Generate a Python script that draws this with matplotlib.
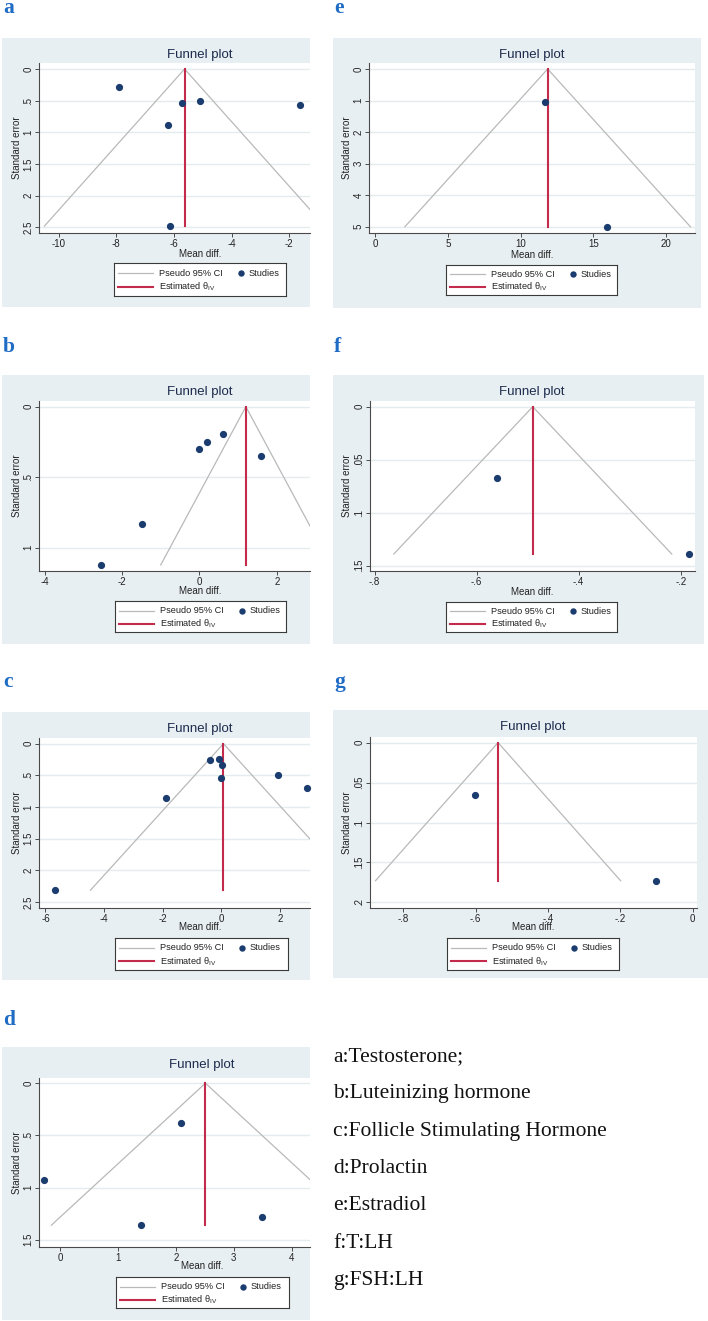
import matplotlib
matplotlib.use("Agg")
import matplotlib.pyplot as plt
from matplotlib.lines import Line2D
from matplotlib.ticker import FuncFormatter

# ---------------- data ----------------
a_md = [-7.92, -5.71, -5.09, -6.21, -1.61, -6.15]
a_se = [0.284, 0.537, 0.50, 0.884, 0.574, 2.48]
a_theta = -5.63

b_md = [0.0, 0.20, 0.60, 1.58, -1.49, -2.54]
b_se = [0.299, 0.254, 0.194, 0.348, 0.836, 1.123]
b_theta = 1.20

c_md = [-0.39, -0.07, 0.01, -0.02, 1.93, 2.91, -1.88, -5.67]
c_se = [0.254, 0.243, 0.344, 0.534, 0.497, 0.703, 0.856, 2.315]
c_theta = 0.07

d_md = [-0.28, 2.09, 1.40, 3.49]
d_se = [0.925, 0.38, 1.36, 1.28]
d_theta = 2.51

e_md = [11.65, 15.96]
e_se = [1.04, 5.0]
e_theta = 11.86

f_md = [-0.561, -0.184]
f_se = [0.0669, 0.139]
f_theta = -0.490

g_md = [-0.602, -0.102]
g_se = [0.0651, 0.1728]
g_theta = -0.538

a_xticks = [-10, -8, -6, -4, -2]
a_yticks = [0, 0.5, 1, 1.5, 2, 2.5]
b_xticks = [-4, -2, 0, 2]
b_yticks = [0, 0.5, 1]
c_xticks = [-6, -4, -2, 0, 2]
c_yticks = [0, 0.5, 1, 1.5, 2, 2.5]
d_xticks = [0, 1, 2, 3, 4]
d_yticks = [0, 0.5, 1, 1.5]
e_xticks = [0, 5, 10, 15, 20]
e_yticks = [0, 1, 2, 3, 4, 5]
f_xticks = [-0.8, -0.6, -0.4, -0.2]
f_yticks = [0, 0.05, 0.1, 0.15]
g_xticks = [-0.8, -0.6, -0.4, -0.2, 0]
g_yticks = [0, 0.05, 0.1, 0.15, 0.2]

captions = ["a:Testosterone;", "b:Luteinizing hormone", "c:Follicle Stimulating Hormone",
            "d:Prolactin", "e:Estradiol", "f:T:LH", "g:FSH:LH"]

# ---------------- styling ----------------
W, H = 708, 1321
BG = "#e8eff2"
GRID = "#e4ecef"
NAVY = "#1a3c6e"
RED = "#c42a4c"
CI = "#b9b9b9"
TITLE = "#1c2b4d"
LETTER = "#1f6cc5"
SANS = ["Liberation Sans", "DejaVu Sans"]
SERIF = ["Liberation Serif", "DejaVu Serif"]

plt.rcParams["font.family"] = SANS
plt.rcParams["mathtext.fontset"] = "custom"
plt.rcParams["mathtext.rm"] = "Liberation Sans"
plt.rcParams["mathtext.it"] = "Liberation Sans"

fig = plt.figure(figsize=(W / 100, H / 100), dpi=100)
fig.patch.set_facecolor("white")


def fx(x):
    return x / W


def fy(y):
    return 1 - y / H


def rect(box):
    x0, y0, x1, y1 = box
    return [x0 / W, 1 - y1 / H, (x1 - x0) / W, (y1 - y0) / H]


def stata_fmt(v, pos=None):
    if abs(v) < 1e-12:
        return "0"
    s = f"{v:g}"
    if s.startswith("0."):
        s = s[1:]
    elif s.startswith("-0."):
        s = "-" + s[2:]
    return s


panels = [
    dict(md=a_md, se=a_se, theta=a_theta, xt=a_xticks, yt=a_yticks,
         xlim=(-10.68, -1.28), ylim=(2.59, -0.095),
         bg=(2, 38, 310, 307), plot=(39, 63, 310, 233), cx=200, ty=55, xly=254,
         ylx=17, leg=(114, 263, 286, 296), letter="a", lpos=(3, 13)),
    dict(md=b_md, se=b_se, theta=b_theta, xt=b_xticks, yt=b_yticks,
         xlim=(-4.15, 2.86), ylim=(1.166, -0.04),
         bg=(2, 375, 310, 644), plot=(39, 401, 310, 571), cx=200, ty=392, xly=591,
         ylx=17, leg=(115, 601, 286, 632), letter="b", lpos=(3, 352)),
    dict(md=c_md, se=c_se, theta=c_theta, xt=c_xticks, yt=c_yticks,
         xlim=(-6.22, 3.02), ylim=(2.595, -0.09),
         bg=(2, 712, 310, 980), plot=(39, 738, 310, 908), cx=200, ty=729, xly=927,
         ylx=17, leg=(115, 938, 288, 970), letter="c", lpos=(3, 687)),
    dict(md=d_md, se=d_se, theta=d_theta, xt=d_xticks, yt=d_yticks,
         xlim=(-0.37, 4.32), ylim=(1.569, -0.05),
         bg=(2, 1047, 310, 1320), plot=(39, 1078, 310, 1247), cx=202, ty=1065, xly=1266,
         ylx=17, leg=(116, 1277, 289, 1308), letter="d", lpos=(3, 1025)),
    dict(md=e_md, se=e_se, theta=e_theta, xt=e_xticks, yt=e_yticks,
         xlim=(-0.41, 21.98), ylim=(5.2, -0.19),
         bg=(333, 38, 701, 308), plot=(369, 63, 695, 233), cx=532, ty=55, xly=255,
         ylx=347, leg=(446, 265, 617, 295), letter="e", lpos=(334, 13)),
    dict(md=f_md, se=f_se, theta=f_theta, xt=f_xticks, yt=f_yticks,
         xlim=(-0.809, -0.172), ylim=(0.155, -0.0054),
         bg=(333, 375, 704, 644), plot=(370, 401, 695, 571), cx=532, ty=392, xly=592,
         ylx=347, leg=(446, 602, 617, 632), letter="f", lpos=(334, 352)),
    dict(md=g_md, se=g_se, theta=g_theta, xt=g_xticks, yt=g_yticks,
         xlim=(-0.892, 0.012), ylim=(0.207, -0.007),
         bg=(333, 710, 708, 978), plot=(370, 737, 697, 908), cx=533, ty=727, xly=927,
         ylx=347, leg=(447, 938, 619, 970), letter="g", lpos=(334, 687)),
]

for p in panels:
    # graph region background (an axes placed underneath)
    bgax = fig.add_axes(rect(p["bg"]), zorder=-5)
    bgax.set_facecolor(BG)
    bgax.set_xticks([])
    bgax.set_yticks([])
    for s in bgax.spines.values():
        s.set_visible(False)

    # panel letter
    fig.text(fx(p["lpos"][0]), fy(p["lpos"][1]), p["letter"], family=SERIF,
             fontweight="bold", fontsize=15.5, color=LETTER, ha="left", va="baseline")

    ax = fig.add_axes(rect(p["plot"]), zorder=1)
    ax.set_facecolor("white")
    md, se, th = p["md"], p["se"], p["theta"]
    semax = max(se)
    # pseudo 95% CI funnel
    ax.plot([th - 1.96 * semax, th, th + 1.96 * semax], [semax, 0, semax],
            color=CI, lw=0.9, zorder=2)
    # estimated theta
    ax.plot([th, th], [0, semax], color=RED, lw=1.5, zorder=3)
    # studies
    ax.scatter(md, se, s=27, color=NAVY, zorder=4, clip_on=False, linewidths=0)

    ax.set_xlim(*p["xlim"])
    ax.set_ylim(*p["ylim"])
    ax.set_xticks(p["xt"])
    ax.set_yticks(p["yt"])
    ax.xaxis.set_major_formatter(FuncFormatter(stata_fmt))
    ax.yaxis.set_major_formatter(FuncFormatter(stata_fmt))
    ax.yaxis.grid(True, color=GRID, lw=1.0)
    ax.set_axisbelow(True)
    for s in ("top", "right"):
        ax.spines[s].set_visible(False)
    for s in ("left", "bottom"):
        ax.spines[s].set_color("#4a4a4a")
        ax.spines[s].set_linewidth(0.8)
    ax.tick_params(direction="out", length=3, width=0.7, colors="#4a4a4a",
                   labelsize=7, labelcolor="#222222")
    ax.tick_params(axis="x", pad=1.5)
    ax.tick_params(axis="y", pad=1)
    for lab in ax.get_yticklabels():
        lab.set_rotation(90)
        lab.set_va("center")

    # title, axis titles
    fig.text(fx(p["cx"]), fy(p["ty"]), "Funnel plot", fontsize=9.5, color=TITLE,
             ha="center", va="center", zorder=5)
    fig.text(fx(p["cx"]), fy(p["xly"]), "Mean diff.", fontsize=7, color="#222222",
             ha="center", va="center", zorder=5)
    pcy = (p["plot"][1] + p["plot"][3]) / 2
    fig.text(fx(p["ylx"]), fy(pcy), "Standard error", fontsize=7, color="#222222",
             rotation=90, ha="center", va="center", zorder=5)

    # legend box
    lx0, ly0, lx1, ly1 = p["leg"]
    lw_, lh_ = lx1 - lx0, ly1 - ly0
    lax = fig.add_axes(rect(p["leg"]), zorder=2)
    lax.set_xlim(0, lw_)
    lax.set_ylim(lh_, 0)
    lax.set_facecolor("white")
    for s in lax.spines.values():
        s.set_color("#3a3a3a")
        s.set_linewidth(0.8)
    lax.set_xticks([])
    lax.set_yticks([])
    r1, r2 = lh_ * 0.31, lh_ * 0.73
    lax.add_line(Line2D([4, 39], [r1, r1], color=CI, lw=0.9))
    lax.text(45, r1, "Pseudo 95% CI", fontsize=6.6, ha="left", va="center", color="#222222")
    lax.plot([127], [r1], "o", color=NAVY, ms=4.6, mew=0)
    lax.text(135, r1, "Studies", fontsize=6.6, ha="left", va="center", color="#222222")
    lax.add_line(Line2D([4, 39], [r2, r2], color=RED, lw=1.5))
    lax.text(45, r2, "Estimated θ$_{\\mathrm{IV}}$", fontsize=6.6, ha="left", va="center",
             color="#222222")

# captions on the right
cap_y0, cap_dy = 1061, 37.3
for i, cap in enumerate(captions):
    fig.text(fx(333), fy(cap_y0 + i * cap_dy), cap, family=SERIF, fontsize=15.5,
             color="#111111", ha="left", va="baseline")

fig.savefig("out.png", dpi=100, facecolor="white")
